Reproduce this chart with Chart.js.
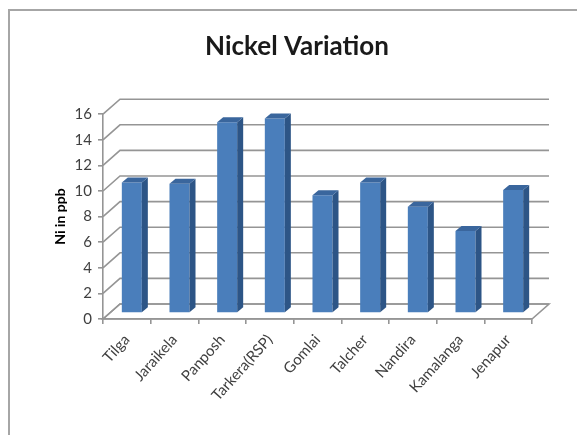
<!DOCTYPE html>
<html>
<head>
    <meta charset="UTF-8">
    <title>Nickel Variation</title>
    <script src="https://cdn.jsdelivr.net/npm/chart.js"></script>
    <style>
        html, body { margin: 0; padding: 0; background: #fff; }
        #wrap { width: 577px; height: 435px; }
    </style>
</head>

<body>
    <div id="wrap">
        <canvas id="barChart" width="577" height="435"></canvas>
    </div>

    <script>
        // sampling sites and nickel concentration (ppb)
        const sites = ['Tilga', 'Jaraikela', 'Panposh', 'Tarkera(RSP)', 'Gomlai', 'Talcher', 'Nandira', 'Kamalanga', 'Jenapur'];
        const nickel = [10.2, 10.1, 14.9, 15.2, 9.2, 10.2, 8.3, 6.4, 9.6];
        const yTicks = [0, 2, 4, 6, 8, 10, 12, 14, 16];

        // depth of the fake 3D box (back wall offset) and of each column
        const WALL_DX = 17, WALL_DY = -15;
        const BAR_SHIFT_X = 5, BAR_SHIFT_Y = -6;
        const BAR_DX = 6, BAR_DY = -5;
        const GRID = '#959595';

        // outer frame, floor and back wall gridlines
        const box3d = {
            id: 'box3d',
            beforeDraw(chart) {
                const ctx = chart.ctx;
                ctx.save();
                ctx.strokeStyle = '#a6a6a6';
                ctx.lineWidth = 2;
                ctx.beginPath();
                ctx.moveTo(9, 440);
                ctx.lineTo(9, 10);
                ctx.lineTo(580, 10);
                ctx.stroke();
                ctx.restore();
            },
            beforeDatasetsDraw(chart) {
                const ctx = chart.ctx;
                const {left, right, bottom} = chart.chartArea;
                const y = chart.scales.y;
                ctx.save();
                ctx.strokeStyle = GRID;
                ctx.lineWidth = 1.6;
                // floor
                ctx.beginPath();
                ctx.moveTo(left, bottom);
                ctx.lineTo(right, bottom);
                ctx.lineTo(right + WALL_DX, bottom + WALL_DY);
                ctx.lineTo(left + WALL_DX, bottom + WALL_DY);
                ctx.closePath();
                ctx.stroke();
                // side wall diagonals + back wall lines
                yTicks.forEach(v => {
                    const py = y.getPixelForValue(v);
                    ctx.beginPath();
                    ctx.moveTo(left, py);
                    ctx.lineTo(left + WALL_DX, py + WALL_DY);
                    ctx.lineTo(right + WALL_DX, py + WALL_DY);
                    ctx.stroke();
                });
                ctx.restore();
                // columns sit mid-depth
                ctx.save();
                ctx.translate(BAR_SHIFT_X, BAR_SHIFT_Y);
            },
            afterDatasetsDraw(chart) {
                const ctx = chart.ctx;
                chart.getDatasetMeta(0).data.forEach(bar => {
                    const x0 = bar.x - bar.width / 2, x1 = bar.x + bar.width / 2;
                    // right side face
                    ctx.fillStyle = '#2d5586';
                    ctx.beginPath();
                    ctx.moveTo(x1, bar.base);
                    ctx.lineTo(x1, bar.y);
                    ctx.lineTo(x1 + BAR_DX, bar.y + BAR_DY);
                    ctx.lineTo(x1 + BAR_DX, bar.base + BAR_DY);
                    ctx.closePath();
                    ctx.fill();
                    // top face
                    ctx.fillStyle = '#3a669d';
                    ctx.beginPath();
                    ctx.moveTo(x0, bar.y);
                    ctx.lineTo(x1, bar.y);
                    ctx.lineTo(x1 + BAR_DX, bar.y + BAR_DY);
                    ctx.lineTo(x0 + BAR_DX, bar.y + BAR_DY);
                    ctx.closePath();
                    ctx.fill();
                });
                ctx.restore();
            }
        };

        const ctx = document.getElementById('barChart').getContext('2d');
        const chart = new Chart(ctx, {
            type: 'bar',
            data: {
                labels: sites,
                datasets: [{
                    label: 'Ni in ppb',
                    data: nickel,
                    backgroundColor: '#4a7ebb',
                    borderWidth: 0,
                    barPercentage: 0.42,
                    categoryPercentage: 1.0
                }]
            },
            options: {
                responsive: false,
                animation: false,
                // left padding pushes the centred title to the right
                layout: { padding: { left: 62, right: 45, top: 0, bottom: 0 } },
                plugins: {
                    legend: { display: false },
                    tooltip: { enabled: false },
                    title: {
                        display: true,
                        text: 'Nickel Variation',
                        color: '#1a1a1a',
                        font: { family: 'Lato', size: 26, weight: 'bold', lineHeight: 1.2 },
                        padding: { top: 31, bottom: 52 }
                    }
                },
                scales: {
                    x: {
                        grid: { display: true, drawOnChartArea: false, drawTicks: true, tickLength: 5, color: GRID, lineWidth: 1.6, offset: true },
                        border: { display: true, color: GRID, width: 1.6 },
                        ticks: {
                            color: '#404040',
                            font: { family: 'Lato', size: 15 },
                            minRotation: 48,
                            maxRotation: 48,
                            autoSkip: false,
                            padding: 7
                        },
                        afterFit(scale) { scale.height = 116; }
                    },
                    y: {
                        min: 0,
                        max: 16,
                        afterBuildTicks(scale) { scale.ticks = yTicks.map(v => ({ value: v })); },
                        grid: { display: true, drawOnChartArea: false, drawTicks: true, tickLength: 5, color: GRID, lineWidth: 1.6 },
                        border: { display: true, color: GRID, width: 1.6 },
                        ticks: {
                            color: '#404040',
                            font: { family: 'Lato', size: 15 },
                            padding: 6
                        },
                        title: {
                            display: true,
                            text: 'Ni in ppb',
                            color: '#000',
                            font: { family: 'Lato', size: 14, weight: 'bold' },
                            padding: { top: -10, bottom: 0 }
                        },
                        afterFit(scale) { scale.width = 41; }
                    }
                }
            },
            plugins: [box3d]
        });
    </script>
</body>
</html>
